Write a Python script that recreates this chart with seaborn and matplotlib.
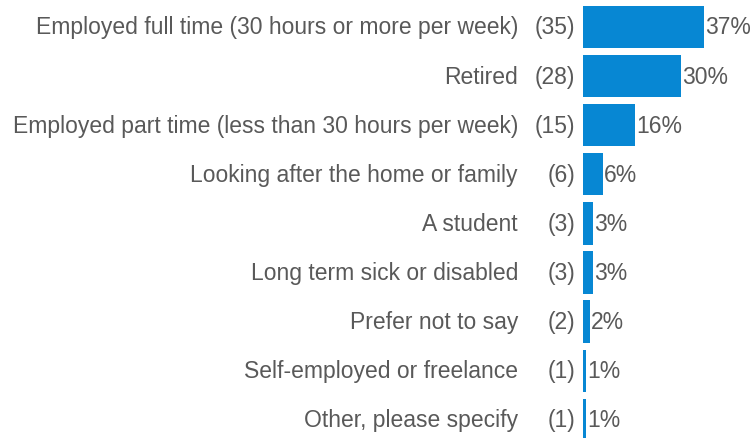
import matplotlib
matplotlib.use("Agg")
import matplotlib.pyplot as plt
import seaborn as sns
import pandas as pd

categories = [
    "Employed full time (30 hours or more per week)",
    "Retired",
    "Employed part time (less than 30 hours per week)",
    "Looking after the home or family",
    "A student",
    "Long term sick or disabled",
    "Prefer not to say",
    "Self-employed or freelance",
    "Other, please specify",
]
counts = [35, 28, 15, 6, 3, 3, 2, 1, 1]
percents = [37, 30, 16, 6, 3, 3, 2, 1, 1]

df = pd.DataFrame({"category": categories, "count": counts, "percent": percents})

sns.set_theme(style="white")
plt.rcParams["font.family"] = ["Liberation Sans", "DejaVu Sans"]

W, H = 751, 439
fig = plt.figure(figsize=(W / 100, H / 100), dpi=100)
left_px = 583
ax = fig.add_axes([left_px / W, 0, 1 - left_px / W, 1])

bar_color = "#0787d3"
text_color = "#595959"
fs = 16.5

sns.barplot(data=df, y="category", x="percent", orient="h", color=bar_color,
            width=0.86, saturation=1, ax=ax, linewidth=0)

px_per_unit = 3.28
ax.set_xlim(0, (W - left_px) / px_per_unit)
pitch = 49.1
first = 28
ax.set_ylim((H - first) / pitch, -first / pitch)
ax.axis("off")

for i, (cat, n, p) in enumerate(zip(categories, counts, percents)):
    ax.annotate(f"{p}%", xy=(p, i), xycoords="data",
                xytext=(1, 0), textcoords="offset pixels",
                ha="left", va="center", fontsize=fs, color=text_color,
                annotation_clip=False)
    ax.annotate(f"({n})", xy=(0, i), xycoords="data",
                xytext=(-8, 0), textcoords="offset pixels",
                ha="right", va="center", fontsize=fs, color=text_color,
                annotation_clip=False)
    ax.annotate(cat, xy=(0, i), xycoords="data",
                xytext=(-(left_px - 518), 0), textcoords="offset pixels",
                ha="right", va="center", fontsize=fs, color=text_color,
                annotation_clip=False)

fig.savefig("out.png", dpi=100)
